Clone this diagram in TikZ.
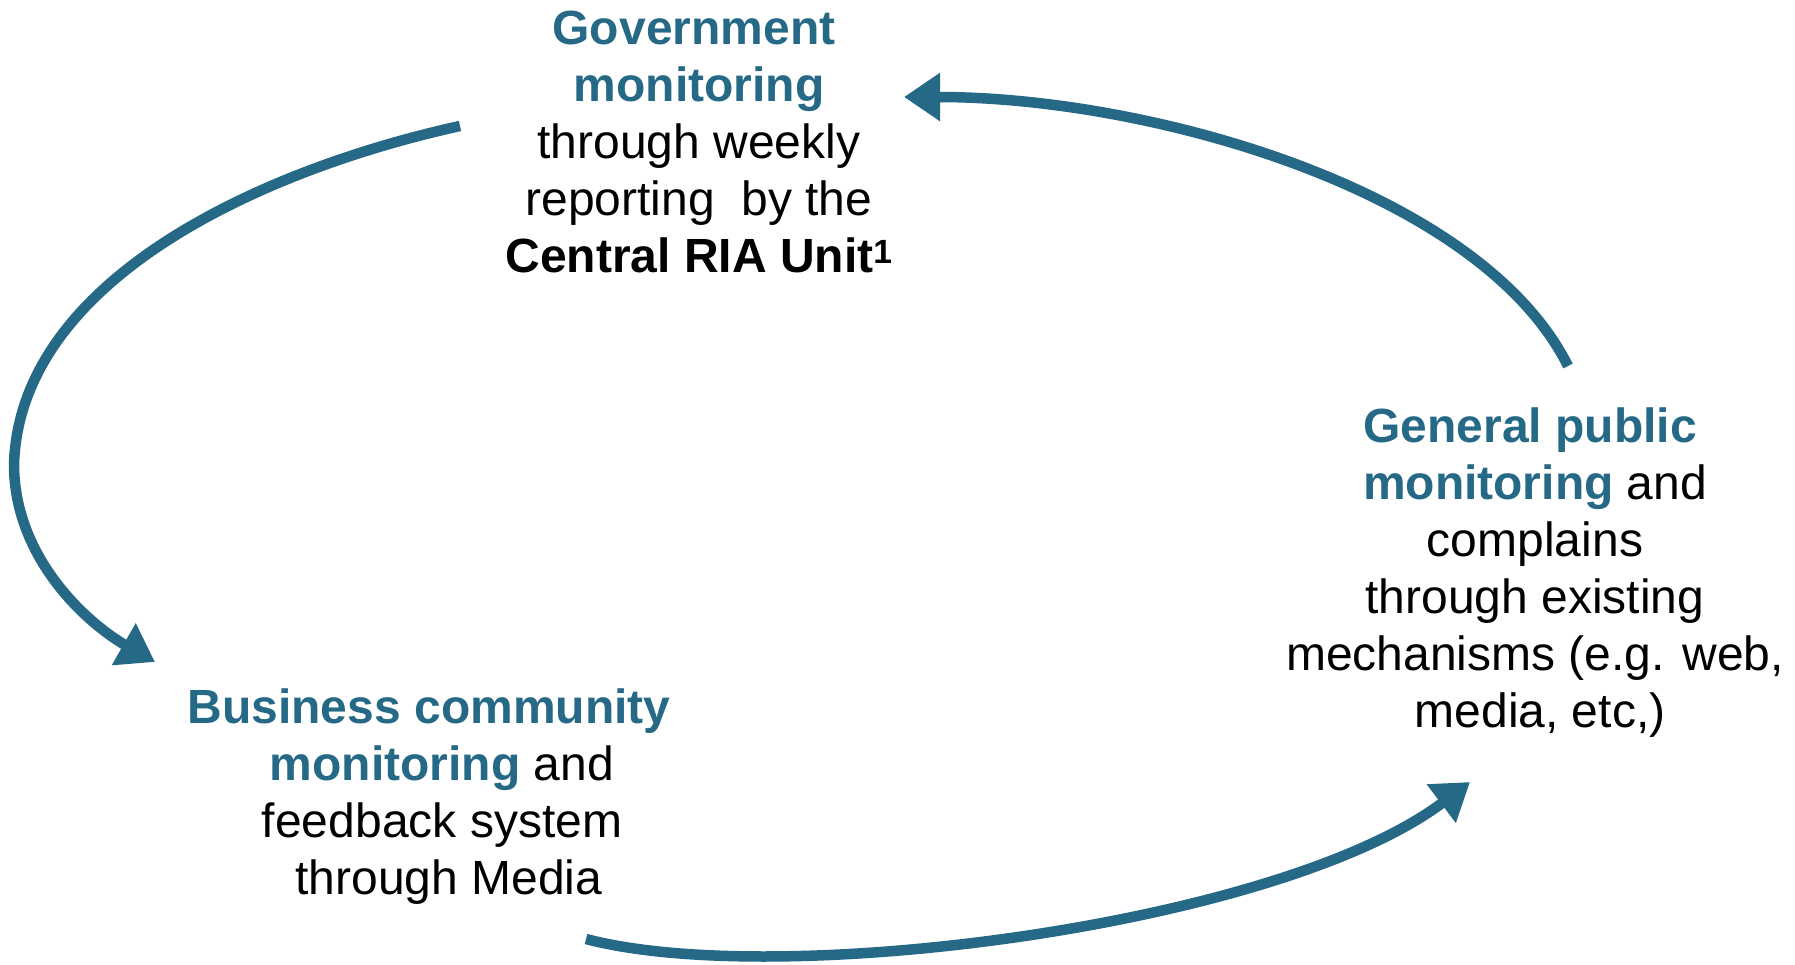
\documentclass[tikz,border=0pt]{standalone}
\usepackage{fontspec}
\setmainfont{Liberation Sans}
\usetikzlibrary{arrows.meta}
\definecolor{ribteal}{RGB}{37,105,134}
\newcommand\hlt[1]{\textbf{\color{ribteal}#1}}
\begin{document}
\begin{tikzpicture}[x=1pt,y=-1pt,
  lbl/.style={align=center, inner sep=0pt, anchor=north, font=\fontsize{48}{57}\selectfont},
  flow/.style={line width=10.5pt, draw=ribteal, -{Triangle[length=36pt,width=46pt]}}]
\useasboundingbox (0,0) rectangle (1795,965);

\node[lbl] (gov) at (699,11) {\hlt{Government}\hspace*{10pt}\\ \hlt{monitoring}\\ through weekly\\ reporting\ \ by the\\ \textbf{Central RIA Unit\textsuperscript{1}}};
\node[lbl] (pub) at (1535,408) {\hlt{General public}\hspace*{10pt}\\ \hlt{monitoring} and\\ complains\\ through existing\\ mechanisms (e.g. web,\\ \hspace*{10pt}media, etc,)};
\node[lbl] (bus) at (429,689) {\hlt{Business community}\\ \hspace*{26pt}\hlt{monitoring} and\\ \hspace*{26pt}feedback system\\ \hspace*{40pt}through Media};

\coordinate (govout) at (460,126);
\coordinate (busin) at (155,662);
\coordinate (busout) at (586,939);
\coordinate (pubin) at (1470,782);
\coordinate (pubout) at (1568,366);
\coordinate (govin) at (904,97);

\draw[flow] (govout) .. controls (260,170) and (20,280) .. (14,464)
  .. controls (14,560) and (90,625) .. (busin);
\draw[flow] (busout) .. controls (780,990) and (1280,925) .. (pubin);
\draw[flow] (pubout) .. controls (1480,190) and (1150,97) .. (govin);
\end{tikzpicture}
\end{document}
